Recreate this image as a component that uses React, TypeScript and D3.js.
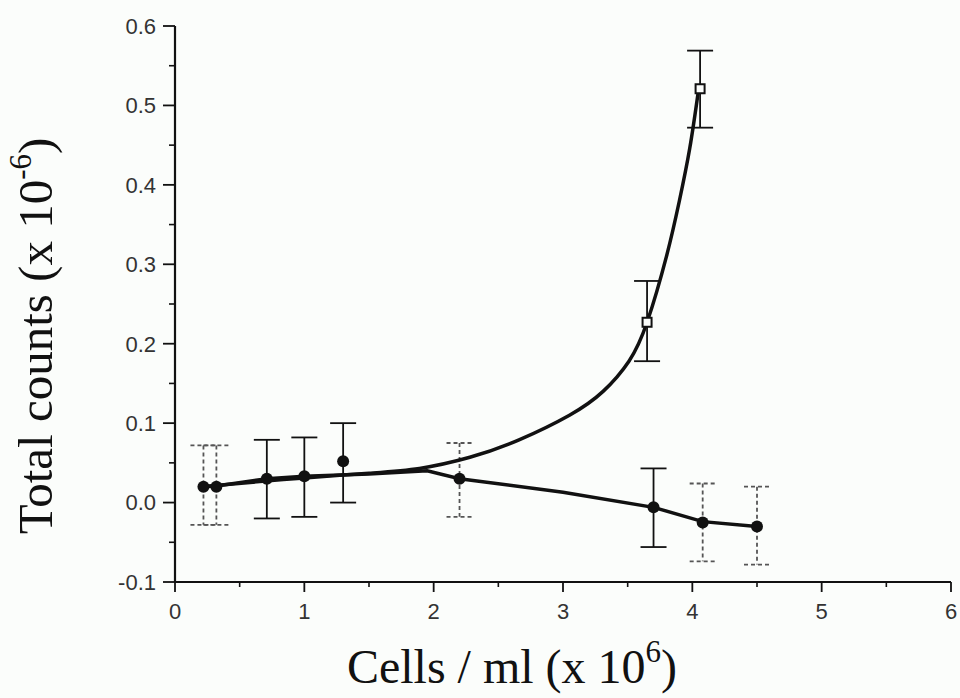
import React from "react";
import * as d3 from "d3";

// ---- data ----
const xTickValues = [0, 1, 2, 3, 4, 5, 6];
const xTickLabels = ["0", "1", "2", "3", "4", "5", "6"];
const yTickValues = [-0.1, 0.0, 0.1, 0.2, 0.3, 0.4, 0.5, 0.6];
const yTickLabels = ["-0.1", "0.0", "0.1", "0.2", "0.3", "0.4", "0.5", "0.6"];

// filled-circle series
const cellsFilled = [0.22, 0.32, 0.71, 1.0, 1.3, 2.2, 3.7, 4.08, 4.5];
const countsFilled = [0.02, 0.02, 0.03, 0.033, 0.052, 0.03, -0.006, -0.025, -0.03];
const errHighFilled = [0.072, 0.072, 0.079, 0.082, 0.1, 0.075, 0.043, 0.024, 0.02];
const errLowFilled = [-0.028, -0.028, -0.02, -0.018, 0.0, -0.018, -0.056, -0.074, -0.078];
// error bars drawn faint / dashed in the scan (style, by index)
const faintBars = [0, 1, 5, 7, 8];

// open-square series
const cellsOpen = [3.65, 4.06];
const countsOpen = [0.227, 0.521];
const errHighOpen = [0.279, 0.569];
const errLowOpen = [0.178, 0.472];

// rising fitted curve
const fitCells = [0.2, 0.7, 1.0, 1.5, 1.89, 2.28, 2.66, 3.05, 3.31, 3.51, 3.65, 3.8, 3.9, 3.98, 4.05];
const fitCounts = [0.02, 0.027, 0.031, 0.037, 0.043, 0.057, 0.079, 0.11, 0.14, 0.178, 0.227, 0.31, 0.38, 0.446, 0.522];

// falling trend line
const lineCells = [0.22, 0.32, 0.71, 1.0, 1.5, 1.95, 2.2, 3.0, 3.7, 4.08, 4.5];
const lineCounts = [0.02, 0.021, 0.03, 0.033, 0.036, 0.04, 0.03, 0.013, -0.006, -0.024, -0.03];

const W = 960;
const H = 698;

export default function App() {
  const x = d3.scaleLinear().domain([0, 6]).range([175, 951]);
  const y = d3.scaleLinear().domain([-0.1, 0.6]).range([582, 26]);

  const fitLine = d3
    .line<number>()
    .x((d, i) => x(fitCells[i]))
    .y((d) => y(d))
    .curve(d3.curveNatural);
  const trendLine = d3
    .line<number>()
    .x((d, i) => x(lineCells[i]))
    .y((d) => y(d))
    .curve(d3.curveLinear);

  const xMinor = d3.range(0.5, 6, 1);
  const yMinor = d3.range(-0.05, 0.6, 0.1);

  const cap = 13;
  const tickFont = "'Liberation Sans', Arial, sans-serif";
  const titleFont = "'Liberation Serif', 'Times New Roman', serif";

  return (
    <svg
      width={W}
      height={H}
      style={{ position: "absolute", left: 0, top: 0, background: "#fbfdfb" }}
    >
      <rect x={0} y={0} width={W} height={H} fill="#fbfdfb" />
      {/* axes */}
      <line x1={x(0)} x2={x(0)} y1={y(0.6)} y2={y(-0.1)} stroke="#111" strokeWidth={2.2} />
      <line x1={x(0)} x2={x(6)} y1={y(-0.1)} y2={y(-0.1)} stroke="#111" strokeWidth={2} />
      {yTickValues.map((v, i) => (
        <g key={"yt" + i}>
          <line x1={x(0) - 12} x2={x(0)} y1={y(v)} y2={y(v)} stroke="#111" strokeWidth={1.8} />
          <text
            x={x(0) - 19}
            y={y(v)}
            dy="0.36em"
            textAnchor="end"
            fontFamily={tickFont}
            fontSize={22}
            fill="#333"
          >
            {yTickLabels[i]}
          </text>
        </g>
      ))}
      {yMinor.map((v, i) => (
        <line key={"ym" + i} x1={x(0) - 6} x2={x(0)} y1={y(v)} y2={y(v)} stroke="#111" strokeWidth={1.6} />
      ))}
      {xTickValues.map((v, i) => (
        <g key={"xt" + i}>
          <line x1={x(v)} x2={x(v)} y1={y(-0.1)} y2={y(-0.1) + 10} stroke="#111" strokeWidth={1.8} />
          <text
            x={x(v)}
            y={619}
            textAnchor="middle"
            fontFamily={tickFont}
            fontSize={22}
            fill="#333"
          >
            {xTickLabels[i]}
          </text>
        </g>
      ))}
      {xMinor.map((v, i) => (
        <line key={"xm" + i} x1={x(v)} x2={x(v)} y1={y(-0.1)} y2={y(-0.1) + 5} stroke="#111" strokeWidth={1.6} />
      ))}

      {/* error bars, filled series */}
      {cellsFilled.map((c, i) => {
        const faint = faintBars.includes(i);
        const col = faint ? "#555" : "#111";
        const dash = faint ? "4 3" : undefined;
        return (
          <g key={"ef" + i} stroke={col} strokeWidth={1.8} strokeDasharray={dash}>
            <line x1={x(c)} x2={x(c)} y1={y(errHighFilled[i])} y2={y(errLowFilled[i])} />
            <line x1={x(c) - cap} x2={x(c) + cap} y1={y(errHighFilled[i])} y2={y(errHighFilled[i])} />
            <line x1={x(c) - cap} x2={x(c) + cap} y1={y(errLowFilled[i])} y2={y(errLowFilled[i])} />
          </g>
        );
      })}
      {/* error bars, open series */}
      {cellsOpen.map((c, i) => (
        <g key={"eo" + i} stroke="#111" strokeWidth={1.8}>
          <line x1={x(c)} x2={x(c)} y1={y(errHighOpen[i])} y2={y(errLowOpen[i])} />
          <line x1={x(c) - cap} x2={x(c) + cap} y1={y(errHighOpen[i])} y2={y(errHighOpen[i])} />
          <line x1={x(c) - cap} x2={x(c) + cap} y1={y(errLowOpen[i])} y2={y(errLowOpen[i])} />
        </g>
      ))}

      {/* curves */}
      <path d={trendLine(lineCounts) || ""} fill="none" stroke="#111" strokeWidth={3.5} />
      <path d={fitLine(fitCounts) || ""} fill="none" stroke="#111" strokeWidth={3.5} />

      {/* markers */}
      {cellsFilled.map((c, i) => (
        <circle key={"mf" + i} cx={x(c)} cy={y(countsFilled[i])} r={6} fill="#111" />
      ))}
      {cellsOpen.map((c, i) => (
        <rect
          key={"mo" + i}
          x={x(c) - 4.5}
          y={y(countsOpen[i]) - 4.5}
          width={9}
          height={9}
          fill="#fbfdfb"
          stroke="#111"
          strokeWidth={2}
        />
      ))}

      {/* titles */}
      <text
        x={512}
        y={683}
        textAnchor="middle"
        fontFamily={titleFont}
        fontSize={48}
        fill="#111"
      >
        Cells / ml (x 10
        <tspan dy={-21} fontSize={31}>6</tspan>
        <tspan dy={21}>)</tspan>
      </text>
      <text
        transform={`translate(52, 336) rotate(-90)`}
        textAnchor="middle"
        fontFamily={titleFont}
        fontSize={49}
        fill="#111"
      >
        Total counts (x 10
        <tspan dy={-21} fontSize={31}>-6</tspan>
        <tspan dy={21}>)</tspan>
      </text>
    </svg>
  );
}
